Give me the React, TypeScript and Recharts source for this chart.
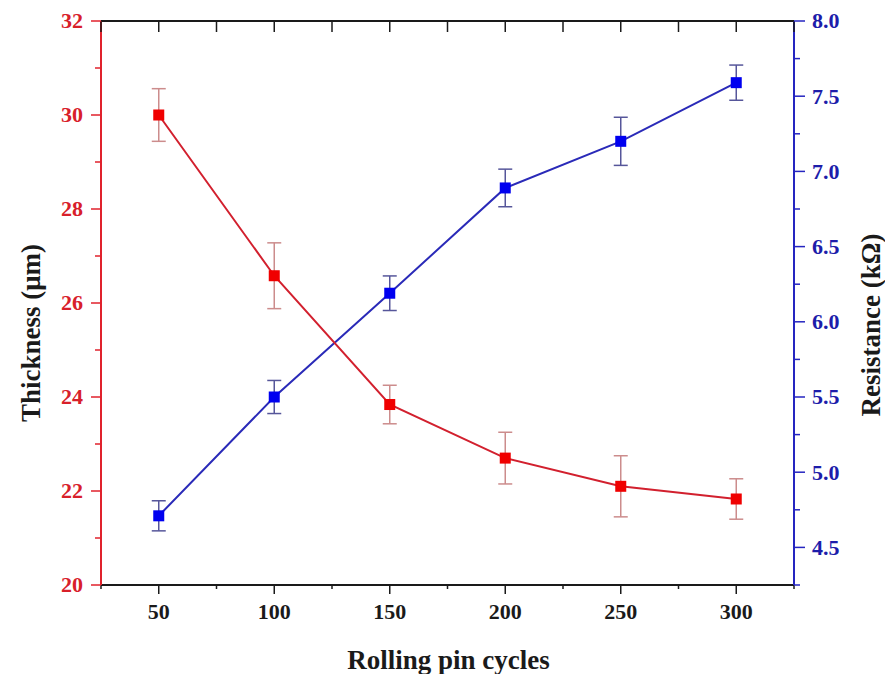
import React from 'react';
import { LineChart, Line, XAxis, YAxis, ErrorBar } from 'recharts';

const cycles = [50, 100, 150, 200, 250, 300];
const thickness = [30.0, 26.58, 23.84, 22.7, 22.1, 21.83];
const thicknessErr = [0.56, 0.7, 0.41, 0.55, 0.65, 0.43];
const resistance = [4.71, 5.5, 6.19, 6.89, 7.2, 7.59];
const resistanceErr = [0.1, 0.11, 0.115, 0.125, 0.16, 0.117];

const xTicks = [25, 50, 75, 100, 125, 150, 175, 200, 225, 250, 275, 300, 325];
const leftTicks = [20, 21, 22, 23, 24, 25, 26, 27, 28, 29, 30, 31, 32];
const rightTicks = [4.25, 4.5, 4.75, 5.0, 5.25, 5.5, 5.75, 6.0, 6.25, 6.5, 6.75, 7.0, 7.25, 7.5, 7.75, 8.0];

const data = cycles.map((c, i) => ({
  cycle: c,
  thickness: thickness[i],
  thicknessErr: thicknessErr[i],
  resistance: resistance[i],
  resistanceErr: resistanceErr[i],
}));

const SERIF = '"Liberation Serif", "Times New Roman", "DejaVu Serif", serif';
const RED_AXIS = '#e0222c';
const RED_TEXT = '#d8202a';
const BLUE_AXIS = '#2525c0';
const BLUE_TEXT = '#1d1daa';
const BLACK = '#1a1a1a';

const LeftTick = (props: any) => {
  const { x, y, payload } = props;
  const v = payload.value;
  const major = Math.round(v) % 2 === 0;
  return (
    <g>
      <line x1={x - (major ? 10 : 6)} y1={y} x2={x} y2={y} stroke={RED_AXIS} strokeWidth={1.5} />
      {major && (
        <text x={x - 18} y={y} dy="0.34em" textAnchor="end" fill={RED_TEXT} fontSize={22} fontWeight="bold" fontFamily={SERIF}>
          {v}
        </text>
      )}
    </g>
  );
};

const RightTick = (props: any) => {
  const { x, y, payload } = props;
  const v = payload.value;
  const major = Math.abs(v * 2 - Math.round(v * 2)) < 1e-6;
  return (
    <g>
      <line x1={x} y1={y} x2={x + (major ? 11 : 6)} y2={y} stroke={BLUE_AXIS} strokeWidth={1.5} />
      {major && (
        <text x={x + 18} y={y} dy="0.34em" textAnchor="start" fill={BLUE_TEXT} fontSize={22} fontWeight="bold" fontFamily={SERIF}>
          {v.toFixed(1)}
        </text>
      )}
    </g>
  );
};

const BottomTick = (props: any) => {
  const { x, y, payload } = props;
  const v = payload.value;
  const major = v % 50 === 0;
  return (
    <g>
      <line x1={x} y1={y} x2={x} y2={y + (major ? 9 : 4)} stroke={BLACK} strokeWidth={1.5} />
      {major && (
        <text x={x} y={y + 34} textAnchor="middle" fill={BLACK} fontSize={22} fontWeight="bold" fontFamily={SERIF}>
          {v}
        </text>
      )}
    </g>
  );
};

const TopTick = (props: any) => {
  const { x, y } = props;
  return <line x1={x} y1={y} x2={x} y2={y + 11} stroke={BLACK} strokeWidth={1.5} />;
};

const makeSquare = (fill: string) => (p: any) => {
  if (p.cx == null || p.cy == null) return <g key={p.index} />;
  return <rect key={p.index} x={p.cx - 5.5} y={p.cy - 5.5} width={11} height={11} fill={fill} />;
};

const LeftTitle = (props: any) => {
  const vb = props.viewBox || { x: 0, y: 21, width: 101, height: 564 };
  const x = vb.x + 40;
  const y = vb.y + vb.height / 2 + 30;
  return (
    <text x={x} y={y} transform={`rotate(-90, ${x}, ${y})`} textAnchor="middle" fill={BLACK} fontSize={27} fontWeight="bold" fontFamily={SERIF}>
      Thickness (μm)
    </text>
  );
};

const RightTitle = (props: any) => {
  const vb = props.viewBox || { x: 794, y: 21, width: 91, height: 564 };
  const x = vb.x + 86;
  const y = vb.y + vb.height / 2 + 22;
  return (
    <text x={x} y={y} transform={`rotate(-90, ${x}, ${y})`} textAnchor="middle" fill={BLACK} fontSize={27} fontWeight="bold" fontFamily={SERIF}>
      Resistance (kΩ)
    </text>
  );
};

const BottomTitle = (props: any) => {
  const vb = props.viewBox || { x: 101, y: 585, width: 693, height: 89 };
  const x = vb.x + vb.width / 2 + 1;
  const y = vb.y + 84;
  return (
    <text x={x} y={y} textAnchor="middle" fill={BLACK} fontSize={27} fontWeight="bold" fontFamily={SERIF}>
      Rolling pin cycles
    </text>
  );
};

export default function App() {
  return (
    <div style={{ position: 'absolute', left: 0, top: 0, width: 885, height: 674, background: '#ffffff' }}>
      <LineChart width={885} height={674} data={data} margin={{ top: 20, right: 0, bottom: 0, left: 0 }}>
        <XAxis
          xAxisId="top"
          orientation="top"
          dataKey="cycle"
          type="number"
          domain={[25, 325]}
          ticks={xTicks}
          interval={0}
          height={1}
          tickSize={0}
          tickMargin={0}
          tickLine={false}
          tick={<TopTick />}
          axisLine={{ stroke: BLACK, strokeWidth: 2 }}
        />
        <XAxis
          xAxisId="bottom"
          orientation="bottom"
          dataKey="cycle"
          type="number"
          domain={[25, 325]}
          ticks={xTicks}
          interval={0}
          height={89}
          tickSize={0}
          tickMargin={0}
          tickLine={false}
          tick={<BottomTick />}
          axisLine={{ stroke: BLACK, strokeWidth: 2 }}
          label={(p: any) => <BottomTitle {...p} />}
        />
        <YAxis
          yAxisId="left"
          orientation="left"
          type="number"
          domain={[20, 32]}
          ticks={leftTicks}
          interval={0}
          width={101}
          tickSize={0}
          tickMargin={0}
          tickLine={false}
          tick={<LeftTick />}
          axisLine={{ stroke: RED_AXIS, strokeWidth: 2 }}
          label={(p: any) => <LeftTitle {...p} />}
        />
        <YAxis
          yAxisId="right"
          orientation="right"
          type="number"
          domain={[4.25, 8]}
          ticks={rightTicks}
          interval={0}
          width={91}
          tickSize={0}
          tickMargin={0}
          tickLine={false}
          tick={<RightTick />}
          axisLine={{ stroke: BLUE_AXIS, strokeWidth: 2 }}
          label={(p: any) => <RightTitle {...p} />}
        />
        <Line
          xAxisId="bottom"
          yAxisId="right"
          dataKey="resistance"
          type="linear"
          stroke="#2a2ab8"
          strokeWidth={2}
          dot={makeSquare('#0000f0')}
          activeDot={false}
          isAnimationActive={false}
        >
          <ErrorBar dataKey="resistanceErr" direction="y" width={7} stroke="#56569a" strokeWidth={1.5} isAnimationActive={false} />
        </Line>
        <Line
          xAxisId="bottom"
          yAxisId="left"
          dataKey="thickness"
          type="linear"
          stroke="#d2202e"
          strokeWidth={2}
          dot={makeSquare('#f00000')}
          activeDot={false}
          isAnimationActive={false}
        >
          <ErrorBar dataKey="thicknessErr" direction="y" width={7} stroke="#cc8c8c" strokeWidth={1.5} isAnimationActive={false} />
        </Line>
      </LineChart>
    </div>
  );
}
